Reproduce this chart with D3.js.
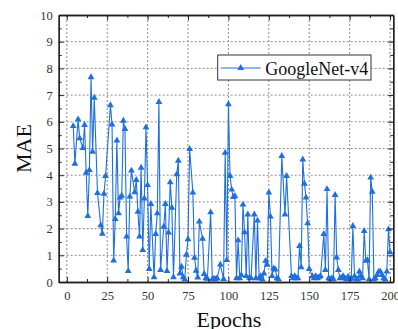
<!DOCTYPE html>
<html>
<head>
<meta charset="utf-8">
<script src="https://cdn.jsdelivr.net/npm/d3@7"></script>
<style>
  html, body { margin: 0; padding: 0; background: #fff; }
  svg { display: block; }
  text { font-family: "Liberation Serif", "Times New Roman", serif; }
</style>
</head>
<body>
<svg id="chart" width="398" height="329"></svg>
<script>
// Training MAE per epoch for GoogleNet-v4
const seriesName = "GoogleNet-v4";
const epochs = [
  4, 5, 7, 8, 10, 11, 12, 13, 14, 15, 16, 17, 19, 21, 22, 23, 24,
  27, 28, 29, 30, 31, 32, 33, 34, 35, 36, 37, 38, 39, 40, 42, 43, 44, 45, 46, 47, 48, 49, 50,
  51, 52, 54, 55, 56, 57, 58, 60, 61, 62, 63, 64, 65, 66, 68, 69, 70, 71, 72, 73, 74, 75,
  76, 78, 79, 80, 81, 82, 84, 85, 86, 87, 89, 90, 91, 92, 93, 95, 97, 98, 99, 100,
  101, 102, 103, 104, 105, 106, 107, 108, 109, 110, 111, 112, 113, 114, 116, 117, 118, 119, 120,
  121, 122, 123, 124, 125, 126, 127, 128, 129, 130, 131, 133, 135, 136, 139, 140, 141, 142, 143,
  144, 145, 146, 147, 148, 149, 150, 152, 153, 154, 155, 156, 157, 159, 160, 161, 162, 163, 164,
  165, 166, 167, 168, 169, 170, 171, 172, 173, 174, 175, 176, 177, 178, 179, 180, 181, 182, 183,
  184, 185, 186, 187, 188, 189, 190, 191, 192, 193, 194, 195, 196, 197, 198, 199, 200
];
const mae = [
  5.84, 4.43, 6.09, 5.38, 5.02, 5.88, 4.09, 2.47, 4.19, 7.67, 4.88, 6.90, 3.33, 2.12, 1.81, 3.30, 3.97,
  6.62, 5.90, 0.80, 2.36, 5.30, 2.57, 3.16, 3.23, 6.04, 5.73, 1.70, 0.41, 3.20, 4.17, 3.36, 3.82, 2.63, 1.70, 4.28, 1.20, 3.13, 5.79, 3.63,
  0.49, 2.92, 0.18, 1.80, 2.57, 6.74, 0.45, 2.07, 2.92, 0.41, 1.85, 3.73, 2.78, 0.18, 4.03, 4.54, 0.32, 0.57, 0.18, 0.10, 1.02, 1.60,
  4.98, 3.35, 0.91, 0.42, 0.17, 2.26, 1.62, 0.30, 0.14, 0.12, 2.61, 0.10, 0.12, 0.10, 0.14, 0.65, 0.11, 4.84, 0.82, 6.66,
  3.97, 3.46, 3.18, 3.22, 0.14, 1.56, 0.14, 0.26, 2.90, 1.86, 0.22, 2.53, 0.16, 0.14, 2.53, 0.14, 2.30, 0.14, 0.22,
  0.10, 0.32, 0.79, 0.64, 3.35, 2.45, 0.22, 0.51, 0.47, 0.14, 0.10, 4.72, 2.53, 3.97, 0.22, 0.14, 0.22, 0.14, 0.14,
  1.35, 0.55, 4.59, 3.68, 3.16, 2.20, 0.49, 0.22, 0.14, 0.22, 0.14, 0.18, 0.22, 1.80, 0.45, 3.48, 0.14, 0.10, 0.14,
  0.10, 3.26, 0.92, 0.45, 0.14, 0.16, 0.22, 0.14, 0.10, 0.20, 0.10, 0.14, 2.10, 0.22, 0.10, 0.10, 0.39, 0.22, 0.14,
  1.91, 0.79, 0.82, 0.10, 3.91, 3.38, 0.10, 0.14, 0.26, 0.39, 0.39, 0.26, 0.14, 0.10, 0.39, 1.97, 1.11
];
const xTicks = [0, 25, 50, 75, 100, 125, 150, 175, 200];
const xMinorTicks = [12.5, 37.5, 62.5, 87.5, 112.5, 137.5, 162.5, 187.5];
const yTicks = [0, 1, 2, 3, 4, 5, 6, 7, 8, 9, 10];
const yMinorTicks = [0.5, 1.5, 2.5, 3.5, 4.5, 5.5, 6.5, 7.5, 8.5, 9.5];

const data = epochs.map((e, i) => ({ epoch: e, value: mae[i] }));

const W = 398, H = 329;
const margin = { top: 15, right: 4.7, bottom: 47, left: 58.7 };
const svg = d3.select("#chart");

const x = d3.scaleLinear().domain([-5, 202]).range([margin.left, W - margin.right]);
const y = d3.scaleLinear().domain([0, 10]).range([H - margin.bottom, margin.top]);

const blue = "#1e6fe0";
const axisColor = "#222";
const labelColor = "#333";

// dotted grid
const grid = svg.append("g").attr("stroke", "#8c8c8c").attr("stroke-width", 1)
  .attr("stroke-dasharray", "2,2");
grid.selectAll("line.v").data(xTicks).join("line")
  .attr("x1", d => x(d)).attr("x2", d => x(d))
  .attr("y1", y(0)).attr("y2", y(10));
grid.selectAll("line.h").data(yTicks.slice(1, -1)).join("line")
  .attr("y1", d => y(d)).attr("y2", d => y(d))
  .attr("x1", x.range()[0]).attr("x2", x.range()[1]);

// series line + triangle markers
const line = d3.line().x(d => x(d.epoch)).y(d => y(d.value));
svg.append("path").datum(data)
  .attr("fill", "none").attr("stroke", blue).attr("stroke-width", 1.1)
  .attr("stroke-linejoin", "round").attr("d", line);

const tri = d3.symbol().type(d3.symbolTriangle).size(20);
svg.append("g").selectAll("path").data(data).join("path")
  .attr("d", tri)
  .attr("transform", d => `translate(${x(d.epoch)},${y(d.value)})`)
  .attr("fill", blue);

// axes on all four sides, ticks pointing inward
function styleAxis(g) {
  g.selectAll(".domain").attr("stroke", axisColor).attr("stroke-width", 1.3);
  g.selectAll(".tick line").attr("stroke", axisColor).attr("stroke-width", 1);
  g.selectAll(".tick text").attr("fill", labelColor)
    .style("font-family", '"Liberation Serif", serif').style("font-size", "12.5px");
}
const yBottom = y(0), yTop = y(10), xLeft = x.range()[0], xRight = x.range()[1];

svg.append("g").attr("transform", `translate(0,${yBottom})`)
  .call(d3.axisBottom(x).tickValues(xTicks).tickSize(-5).tickPadding(9).tickSizeOuter(0))
  .call(styleAxis);
svg.append("g").attr("transform", `translate(0,${yBottom})`)
  .call(d3.axisBottom(x).tickValues(xMinorTicks).tickSize(-3).tickFormat("").tickSizeOuter(0))
  .call(styleAxis);
svg.append("g").attr("transform", `translate(0,${yTop})`)
  .call(d3.axisTop(x).tickValues(xTicks).tickSize(-5).tickFormat("").tickSizeOuter(0))
  .call(styleAxis);
svg.append("g").attr("transform", `translate(0,${yTop})`)
  .call(d3.axisTop(x).tickValues(xMinorTicks).tickSize(-3).tickFormat("").tickSizeOuter(0))
  .call(styleAxis);

svg.append("g").attr("transform", `translate(${xLeft},0)`)
  .call(d3.axisLeft(y).tickValues(yTicks).tickSize(-5).tickPadding(6).tickSizeOuter(0))
  .call(styleAxis);
svg.append("g").attr("transform", `translate(${xLeft},0)`)
  .call(d3.axisLeft(y).tickValues(yMinorTicks).tickSize(-3).tickFormat("").tickSizeOuter(0))
  .call(styleAxis);
svg.append("g").attr("transform", `translate(${xRight},0)`)
  .call(d3.axisRight(y).tickValues(yTicks).tickSize(-5).tickFormat("").tickSizeOuter(0))
  .call(styleAxis);
svg.append("g").attr("transform", `translate(${xRight},0)`)
  .call(d3.axisRight(y).tickValues(yMinorTicks).tickSize(-3).tickFormat("").tickSizeOuter(0))
  .call(styleAxis);

// axis titles
svg.append("text")
  .attr("x", (xLeft + xRight) / 2 + 3).attr("y", 326.5)
  .attr("text-anchor", "middle").attr("fill", "#111")
  .style("font-size", "22px").text("Epochs");
svg.append("text")
  .attr("transform", `translate(31,${(yTop + yBottom) / 2}) rotate(-90)`)
  .attr("text-anchor", "middle").attr("fill", "#111")
  .style("font-size", "22px").text("MAE");

// legend
const lg = svg.append("g").attr("transform", "translate(217.7,55)");
lg.append("rect").attr("width", 153.3).attr("height", 25)
  .attr("fill", "#fff").attr("stroke", "#333").attr("stroke-width", 1);
lg.append("line").attr("x1", 3).attr("x2", 43).attr("y1", 13).attr("y2", 13)
  .attr("stroke", blue).attr("stroke-width", 1.1);
lg.append("path").attr("d", tri).attr("transform", "translate(23,13)").attr("fill", blue);
lg.append("text").attr("x", 47.5).attr("y", 19.5).attr("fill", "#111")
  .style("font-size", "18px").text(seriesName);
</script>
</body>
</html>
